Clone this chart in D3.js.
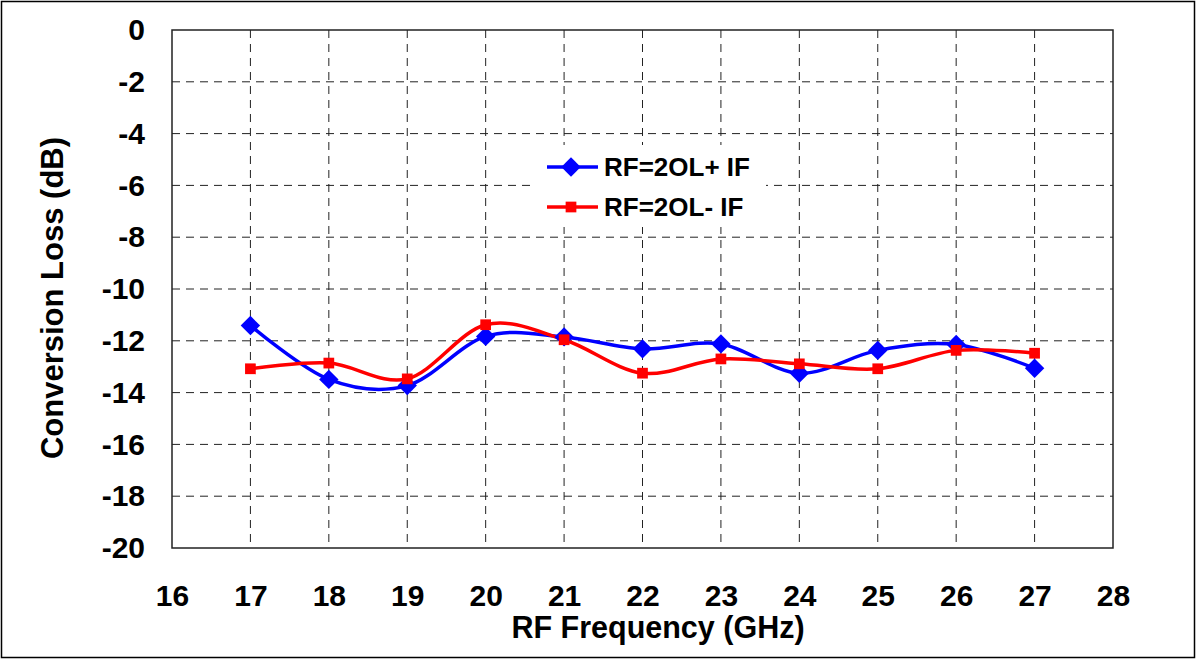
<!DOCTYPE html>
<html>
<head>
<meta charset="utf-8">
<script src="https://cdn.jsdelivr.net/npm/d3@7"></script>
<style>
  body { margin: 0; background: #fff; }
  svg { display: block; font-family: "Liberation Sans", Arial, sans-serif; font-weight: bold; }
</style>
</head>
<body>
<div id="chart"></div>
<script>
// data
var freq = [17, 18, 19, 20, 21, 22, 23, 24, 25, 26, 27];
var plusIF = [-11.41, -13.49, -13.73, -11.83, -11.85, -12.31, -12.12, -13.25, -12.37, -12.14, -13.06];
var minusIF = [-13.08, -12.86, -13.47, -11.38, -11.96, -13.25, -12.70, -12.89, -13.08, -12.37, -12.48];
var xTicks = [16, 17, 18, 19, 20, 21, 22, 23, 24, 25, 26, 27, 28];
var yTicks = [0, -2, -4, -6, -8, -10, -12, -14, -16, -18, -20];
var seriesNames = ["RF=2OL+ IF", "RF=2OL- IF"];

var width = 1196, height = 659;
var margin = {"top": 30, "left": 172, "bottom": 111, "right": 83};

var svg = d3.select("#chart").append("svg")
    .attr("width", width)
    .attr("height", height);

// outer frame
svg.append("rect")
    .attr("x", 1.5).attr("y", 1.5)
    .attr("width", width - 3).attr("height", height - 3)
    .attr("fill", "#fff").attr("stroke", "#000").attr("stroke-width", 1.5);

var x = d3.scaleLinear().domain([16, 28]).range([margin.left, width - margin.right]);
var y = d3.scaleLinear().domain([-20, 0]).range([height - margin.bottom, margin.top]);

// grid
svg.append("g").selectAll("line")
    .data(freq)
    .enter().append("line")
    .attr("x1", function(d){ return x(d); }).attr("x2", function(d){ return x(d); })
    .attr("y1", y(0)).attr("y2", y(-20))
    .attr("stroke", "#222").attr("stroke-width", 1)
    .attr("stroke-dasharray", "8,6");

svg.append("g").selectAll("line")
    .data(yTicks.filter(function(d){ return d != 0 && d != -20; }))
    .enter().append("line")
    .attr("x1", x(16)).attr("x2", x(28))
    .attr("y1", function(d){ return y(d); }).attr("y2", function(d){ return y(d); })
    .attr("stroke", "#222").attr("stroke-width", 1)
    .attr("stroke-dasharray", "8,6");

// plot border
svg.append("rect")
    .attr("x", x(16)).attr("y", y(0))
    .attr("width", x(28) - x(16)).attr("height", y(-20) - y(0))
    .attr("fill", "none").attr("stroke", "#222").attr("stroke-width", 1.5);

// axes (labels only), plain hyphen for negatives
var fmt = function(d){ return String(d); };

var xAxis = svg.append("g")
    .attr("transform", "translate(0," + y(-20) + ")")
    .call(d3.axisBottom(x).tickValues(xTicks).tickFormat(fmt).tickSize(0).tickPadding(37));
xAxis.select(".domain").remove();
xAxis.selectAll("text")
    .attr("font-size", 30).attr("font-family", "Liberation Sans, Arial")
    .attr("font-weight", "bold").attr("fill", "#000");

var yAxis = svg.append("g")
    .attr("transform", "translate(" + x(16) + ",0)")
    .call(d3.axisLeft(y).tickValues(yTicks).tickFormat(fmt).tickSize(0).tickPadding(27));
yAxis.select(".domain").remove();
yAxis.selectAll("text")
    .attr("font-size", 30).attr("font-family", "Liberation Sans, Arial")
    .attr("font-weight", "bold").attr("fill", "#000");

// axis titles
svg.append("text")
    .attr("x", 658).attr("y", 638)
    .attr("text-anchor", "middle")
    .attr("font-size", 30.5)
    .text("RF Frequency (GHz)");

svg.append("text")
    .attr("transform", "translate(63,298) rotate(-90)")
    .attr("text-anchor", "middle")
    .attr("font-size", 31)
    .text("Conversion Loss (dB)");

// lines
var line = d3.line()
    .x(function(d){ return x(d[0]); })
    .y(function(d){ return y(d[1]); })
    .curve(d3.curveCatmullRom.alpha(0));

var blueData = freq.map(function(f, i){ return [f, plusIF[i]]; });
var redData = freq.map(function(f, i){ return [f, minusIF[i]]; });

svg.append("path").datum(blueData)
    .attr("d", line).attr("fill", "none")
    .attr("stroke", "#0000ff").attr("stroke-width", 3.5);
svg.append("path").datum(redData)
    .attr("d", line).attr("fill", "none")
    .attr("stroke", "#ff0000").attr("stroke-width", 3.5);

var diamond = d3.symbol().type(d3.symbolDiamond2).size(240);
var square = d3.symbol().type(d3.symbolSquare).size(115);

svg.append("g").selectAll("path")
    .data(blueData)
    .enter().append("path")
    .attr("transform", function(d){ return "translate(" + x(d[0]) + "," + y(d[1]) + ")"; })
    .attr("d", diamond)
    .attr("fill", "#0000ff");

svg.append("g").selectAll("path")
    .data(redData)
    .enter().append("path")
    .attr("transform", function(d){ return "translate(" + x(d[0]) + "," + y(d[1]) + ")"; })
    .attr("d", square)
    .attr("fill", "#ff0000");

// legend
var legend = svg.append("g").attr("transform", "translate(530,145)");
legend.append("rect")
    .attr("width", 236).attr("height", 82)
    .attr("fill", "#fff");

var lg1 = legend.append("g").attr("transform", "translate(0,22)");
lg1.append("line").attr("x1", 17).attr("x2", 68).attr("y1", 0).attr("y2", 0)
    .attr("stroke", "#0000ff").attr("stroke-width", 3.5);
lg1.append("path").attr("transform", "translate(41,0)").attr("d", diamond).attr("fill", "#0000ff");
lg1.append("text").attr("x", 74).attr("y", 9).attr("font-size", 26).text(seriesNames[0]);

var lg2 = legend.append("g").attr("transform", "translate(0,62)");
lg2.append("line").attr("x1", 17).attr("x2", 68).attr("y1", 0).attr("y2", 0)
    .attr("stroke", "#ff0000").attr("stroke-width", 3.5);
lg2.append("path").attr("transform", "translate(41,0)").attr("d", square).attr("fill", "#ff0000");
lg2.append("text").attr("x", 74).attr("y", 9).attr("font-size", 26).text(seriesNames[1]);
</script>
</body>
</html>
